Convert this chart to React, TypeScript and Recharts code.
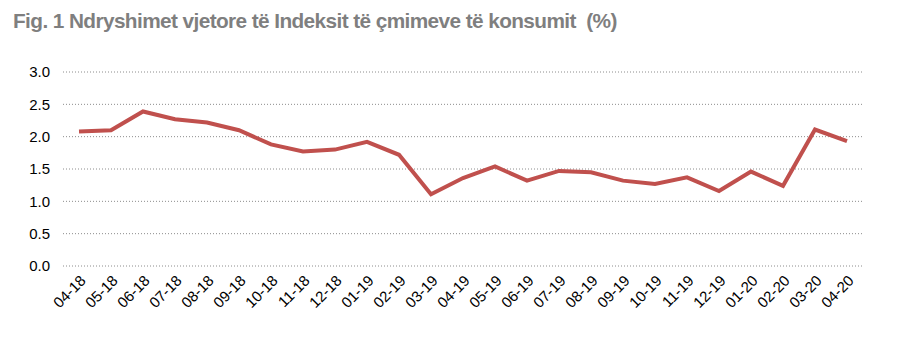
import { CartesianGrid, Line, LineChart, XAxis, YAxis } from 'recharts'

const months = [
  '04-18', '05-18', '06-18', '07-18', '08-18', '09-18', '10-18', '11-18', '12-18',
  '01-19', '02-19', '03-19', '04-19', '05-19', '06-19', '07-19', '08-19', '09-19',
  '10-19', '11-19', '12-19', '01-20', '02-20', '03-20', '04-20',
]

const cpiChange = [
  2.08, 2.1, 2.39, 2.27, 2.22, 2.1, 1.88, 1.77, 1.8,
  1.92, 1.72, 1.11, 1.36, 1.54, 1.32, 1.47, 1.45, 1.32,
  1.27, 1.37, 1.16, 1.46, 1.24, 2.11, 1.93,
]

const yTicks = [0, 0.5, 1, 1.5, 2, 2.5, 3]

const data = months.map((m, i) => ({ month: m, value: cpiChange[i] }))

const font = '"Liberation Sans", Arial, sans-serif'

function MonthTick({ x, y, payload }: any) {
  return (
    <g transform={`translate(${x + 4},${y + 4}) rotate(-45)`}>
      <text x={0} y={0} dy="0.35em" textAnchor="end" fill="#000" fontSize={15} fontFamily={font}>
        {payload.value}
      </text>
    </g>
  )
}

export default function App() {
  return (
    <div style={{ position: 'absolute', left: 0, top: 0, width: 900, height: 350, background: '#fff' }}>
      <div
        style={{
          position: 'absolute',
          left: 13,
          top: 9,
          fontFamily: font,
          fontWeight: 'bold',
          fontSize: 21,
          color: '#7f7f7f',
          whiteSpace: 'pre',
          letterSpacing: -0.6,
          transform: 'scaleX(0.99)',
          transformOrigin: 'left top',
        }}
      >
        {'Fig. 1 Ndryshimet vjetore të Indeksit të çmimeve të konsumit  (%)'}
      </div>
      <LineChart width={900} height={350} data={data} margin={{ top: 72, right: 37, bottom: 24, left: 13 }}>
        <CartesianGrid vertical={false} stroke="#8c8c8c" strokeDasharray="1 2" />
        <XAxis
          dataKey="month"
          axisLine={false}
          tickLine={false}
          interval={0}
          height={60}
          padding={{ left: 16, right: 16 }}
          tick={<MonthTick />}
        />
        <YAxis
          domain={[0, 3]}
          ticks={yTicks}
          axisLine={false}
          tickLine={false}
          tickSize={0}
          tickMargin={13}
          width={50}
          tickFormatter={(v: number) => v.toFixed(1)}
          tick={{ fill: '#000', fontSize: 15, fontFamily: font }}
        />
        <Line
          type="linear"
          dataKey="value"
          stroke="#c0504d"
          strokeWidth={4}
          dot={false}
          isAnimationActive={false}
        />
      </LineChart>
    </div>
  )
}
